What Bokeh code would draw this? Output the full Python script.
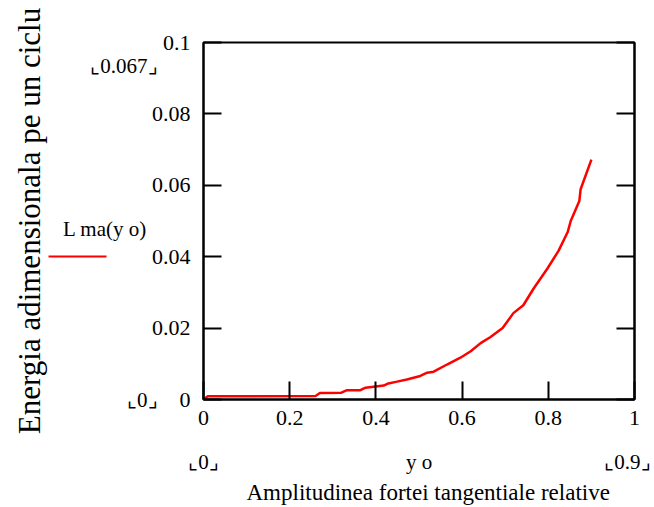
from bokeh.plotting import figure
from bokeh.models import Range1d, FixedTicker, LinearAxis, Title
from bokeh.embed import file_html
from bokeh.resources import INLINE

# ---- data ----
y_o = [0.0, 0.01, 0.26, 0.27, 0.32, 0.333, 0.364, 0.376, 0.395, 0.418, 0.429,
       0.449, 0.472, 0.503, 0.519, 0.534, 0.565, 0.596, 0.620, 0.643, 0.666,
       0.694, 0.719, 0.742, 0.766, 0.798, 0.824, 0.845, 0.852, 0.872, 0.875, 0.900]
L_ma = [0.0, 0.0009, 0.0010, 0.0018, 0.0019, 0.0026, 0.0026, 0.0033, 0.0036,
        0.0039, 0.0045, 0.0050, 0.0056, 0.0066, 0.0075, 0.0078, 0.0098, 0.0117,
        0.0135, 0.0158, 0.0175, 0.0200, 0.0242, 0.0264, 0.0311, 0.0367, 0.0417,
        0.0469, 0.0500, 0.0556, 0.0589, 0.0672]
x_ticks = [0, 0.2, 0.4, 0.6, 0.8, 1.0]
x_tick_labels = ["0", "0.2", "0.4", "0.6", "0.8", "1"]
y_ticks = [0, 0.02, 0.04, 0.06, 0.08, 0.1]
y_tick_labels = ["0", "0.02", "0.04", "0.06", "0.08", "0.1"]
x_limit_labels = ["\u231e0\u231f", "y o", "\u231e0.9\u231f"]
y_limit_labels = ["\u231e0\u231f", "L ma(y o)\u00a0\u00a0", "\u231e0.067\u231f"]
y_title = "Energia adimensionala pe un ciclu"
x_title = "Amplitudinea fortei tangentiale relative"

# ---- layout constants (label anchor positions, not data) ----
X_LIMIT_POS = [0.0, 0.5, 0.99]
Y_LIMIT_POS = [0.0, 0.0478, 0.0935]
LEGEND_LINE_POS = [0.04]

FONT = "Liberation Serif"
W, H = 650, 505
FL, FT, FR, FB = 203, 42, 634, 402

p = figure(width=W, height=H, output_backend="svg", toolbar_location=None,
           x_range=Range1d(0, 1), y_range=Range1d(0, 0.1),
           x_axis_location=None, y_axis_location=None,
           min_border_left=FL, min_border_top=FT,
           min_border_right=W - FR, min_border_bottom=H - FB)
p.title.visible = False
p.xgrid.visible = False
p.ygrid.visible = False
p.outline_line_color = "black"
p.outline_line_width = 2
p.background_fill_color = "white"
p.border_fill_color = "white"


def make_axis(ticks, labels, size="22px", tick_in=18, tick_out=0,
              line=True, tick_color="black", standoff=12):
    ax = LinearAxis()
    ax.ticker = FixedTicker(ticks=ticks)
    ax.major_label_overrides = {t: l for t, l in zip(ticks, labels)}
    ax.major_tick_in = tick_in
    ax.major_tick_out = tick_out
    ax.minor_tick_in = 0
    ax.minor_tick_out = 0
    ax.axis_line_width = 2
    ax.axis_line_color = "black" if line else None
    ax.major_tick_line_width = 2
    ax.major_tick_line_color = tick_color
    ax.major_label_text_font = FONT
    ax.major_label_text_font_size = size
    ax.major_label_text_color = "black"
    ax.major_label_standoff = standoff
    return ax


# main axes (ticks pointing inward, Mathcad style)
p.add_layout(make_axis(x_ticks, x_tick_labels, standoff=11), "below")
p.add_layout(make_axis(y_ticks, y_tick_labels, standoff=13), "left")
p.add_layout(make_axis(y_ticks, [""] * len(y_ticks), size="0px", standoff=0), "right")

# Mathcad limit / placeholder labels
p.add_layout(make_axis(X_LIMIT_POS, x_limit_labels, size="21px", tick_in=0,
                       line=False, tick_color=None, standoff=22), "below")
p.add_layout(make_axis(Y_LIMIT_POS, y_limit_labels, size="21px", tick_in=0,
                       line=False, tick_color=None, standoff=-9), "left")
# legend line sample (drawn as a red tick)
p.add_layout(make_axis(LEGEND_LINE_POS, [""], size="0px", tick_in=46, tick_out=12,
                       line=False, tick_color="red", standoff=0), "left")

# curve
p.line(y_o, L_ma, line_color="red", line_width=2.5)

# titles
p.add_layout(Title(text=y_title, align="center", text_font=FONT,
                   text_font_size="31px", text_font_style="normal",
                   text_color="black", standoff=3), "left")
p.add_layout(Title(text=x_title, align="left", offset=43, text_font=FONT,
                   text_font_size="23px", text_font_style="normal",
                   text_color="black", standoff=2), "below")

open("out.html", "w").write(file_html(p, INLINE))
